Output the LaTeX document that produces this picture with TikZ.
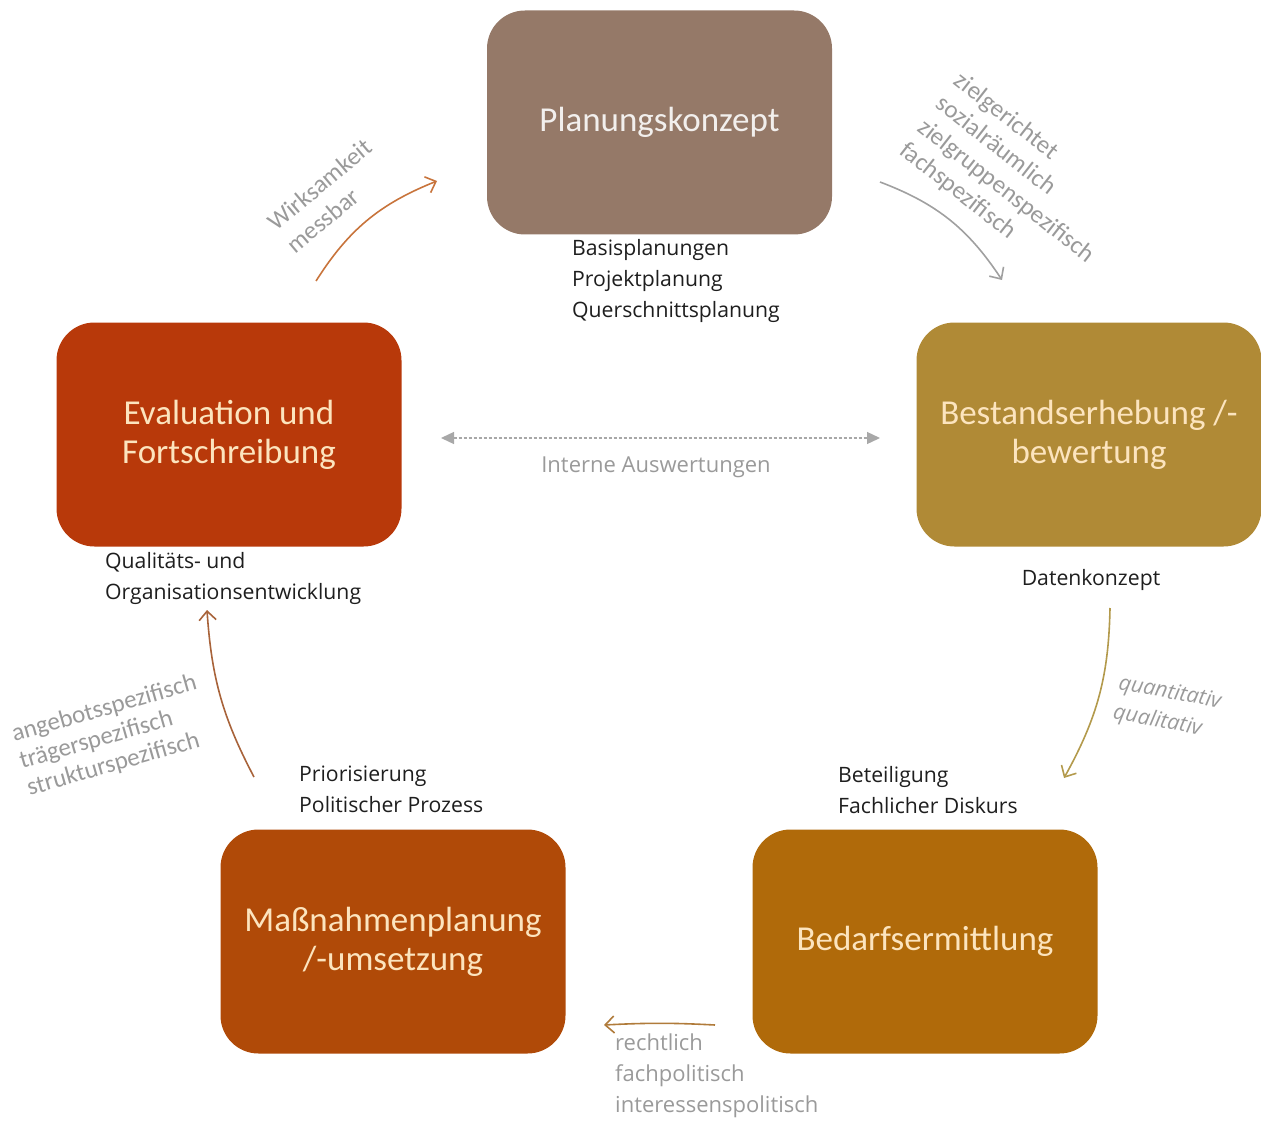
\documentclass[tikz,border=0pt]{standalone}
\usepackage{fontspec}
\setmainfont{Carlito}
\newfontfamily\labfont{Open Sans}
\usetikzlibrary{arrows.meta,bending}

\definecolor{cP}{HTML}{957968}
\definecolor{cB}{HTML}{B08A36}
\definecolor{cE}{HTML}{B8390A}
\definecolor{cM}{HTML}{B04A08}
\definecolor{cD}{HTML}{B06A0A}
\definecolor{boxtext}{HTML}{FCE4BE}
\definecolor{greytext}{HTML}{9A9A9A}
\definecolor{labeltext}{HTML}{1E1E1E}
\definecolor{arrA}{HTML}{C8743C}
\definecolor{arrB}{HTML}{A0A0A0}
\definecolor{arrC}{HTML}{B39A4C}
\definecolor{arrD}{HTML}{B07B3A}
\definecolor{arrE}{HTML}{A8633A}
\definecolor{dashc}{HTML}{A8A8A8}

\tikzset{
  stagebox/.style={rounded corners=38pt, minimum width=345pt, minimum height=224pt,
    text=boxtext, align=center, font=\fontsize{35}{39}\selectfont, inner sep=0pt},
  blacklabel/.style={font=\labfont\fontsize{21.2}{31}\selectfont, text=labeltext, align=left, inner sep=0pt},
  greylabel/.style={font=\labfont\fontsize{22}{31}\selectfont, text=greytext, align=left, inner sep=0pt},
  rotlabel/.style={font=\fontsize{25}{29.5}\selectfont, text=greytext, align=left, inner sep=0pt},
  flow/.style={line width=1.6pt, -{Straight Barb[length=9pt,width=17pt,line width=1.6pt]}},
}

\begin{document}
\begin{tikzpicture}[x=1pt,y=-1pt]
\useasboundingbox (0,0) rectangle (1261,1126);

% stage boxes
\node[stagebox, fill=cP, text=white!88!cP] (P) at (659.5,122.5) {Planungskonzept};
\node[stagebox, fill=cB] (B) at (1089,434.5) {Bestandserhebung /-\\bewertung};
\node[stagebox, fill=cE] (E) at (229,434.5) {Evaluation und\\Fortschreibung};
\node[stagebox, fill=cM] (M) at (393,941.5) {Maßnahmenplanung\\/-umsetzung};
\node[stagebox, fill=cD] (D) at (925,941.5) {Bedarfsermittlung};

% black labels
\node[blacklabel, anchor=north west] (lP) at (572,239) {Basisplanungen\\Projektplanung\\Querschnittsplanung};
\node[blacklabel, anchor=base] (lB) at (1091,585) {Datenkonzept};
\node[blacklabel, anchor=north west] (lE) at (105,552) {Qualitäts- und\\Organisationsentwicklung};
\node[blacklabel, anchor=north west] (lM) at (299,766) {Priorisierung\\Politischer Prozess};
\node[blacklabel, anchor=north west] (lD) at (838,766) {Beteiligung\\Fachlicher Diskurs};

% grey labels
\node[greylabel, anchor=base] (lI) at (656,472) {Interne Auswertungen};
\node[greylabel, anchor=north west] (lR) at (615,1034) {rechtlich\\fachpolitisch\\interessenspolitisch};
\node[rotlabel, rotate=40] (lW) at (329,196) {Wirksamkeit\\messbar};
\node[rotlabel, rotate=-38] (lZ) at (1015,180) {zielgerichtet\\sozialräumlich\\zielgruppenspezifisch\\fachspezifisch};
\node[rotlabel, rotate=16, font=\fontsize{25}{28}\selectfont] (lA) at (112,736) {angebotsspezifisch\\trägerspezifisch\\strukturspezifisch};
\node[greylabel, rotate=-10.5, font=\labfont\itshape\fontsize{21.5}{30}\selectfont] (lQ) at (1167,708) {quantitativ\\qualitativ};

% connector end points
\coordinate (eA1) at (316,281);  \coordinate (eA2) at (437,181);
\coordinate (eB1) at (880,182);  \coordinate (eB2) at (1002,280);
\coordinate (eC1) at (1110,608); \coordinate (eC2) at (1064,778);
\coordinate (eD1) at (715,1025); \coordinate (eD2) at (604,1025);
\coordinate (eE1) at (254,777);  \coordinate (eE2) at (207,610);
\coordinate (eI1) at (441,438);  \coordinate (eI2) at (880,438);

% connectors
\draw[flow, arrA] (eA1) to[bend left=18] (eA2);
\draw[flow, arrB] (eB1) to[bend left=18] (eB2);
\draw[flow, arrC] (eC1) to[bend left=14] (eC2);
\draw[flow, arrD] (eD1) to[bend right=3] (eD2);
\draw[flow, arrE] (eE1) to[bend left=12] (eE2);
\draw[dashc, line width=1.3pt, dash pattern=on 3pt off 2pt,
  {Triangle[length=13pt,width=12pt]}-{Triangle[length=13pt,width=12pt]}] (eI1) -- (eI2);
\end{tikzpicture}
\end{document}
